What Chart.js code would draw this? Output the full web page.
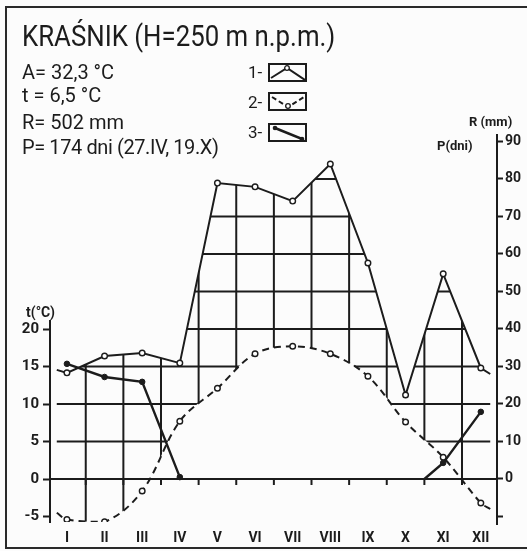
<!DOCTYPE html>
<html>
<head>
<meta charset="utf-8">
<script src="https://cdn.jsdelivr.net/npm/chart.js@4.4.1/dist/chart.umd.min.js"></script>
<style>
html, body { margin: 0; padding: 0; background: #fcfcfc; }
#wrap { position: relative; width: 527px; height: 551px; overflow: hidden; font-family: Roboto, sans-serif; color: #1c1c1c; }
#frame { position: absolute; left: 5px; top: 6px; width: 560px; height: 539px; border: 2px solid #2a2a2a; }
#chart { position: absolute; left: 0; top: 0; }
.t { position: absolute; white-space: nowrap; line-height: 1; }
.box { position: absolute; width: 35px; height: 15px; border: 2px solid #1c1c1c; }
.box svg { position: absolute; left: 0; top: 0; }
</style>
</head>
<body>
<div id="wrap">
  <div id="frame"></div>
  <canvas id="chart" width="527" height="551"></canvas>

  <div class="t" style="left:22px;top:21px;font-size:30px;transform:scaleX(0.86);transform-origin:left top;">KRAŚNIK (H=250 m n.p.m.)</div>
  <div class="t" style="left:22px;top:62px;font-size:20px;">A= 32,3 °C</div>
  <div class="t" style="left:22px;top:85px;font-size:20px;">t = 6,5 °C</div>
  <div class="t" style="left:22px;top:112px;font-size:20px;">R= 502 mm</div>
  <div class="t" style="left:22px;top:137px;font-size:20px;letter-spacing:-0.4px;">P= 174 dni (27.IV, 19.X)</div>

  <div class="t" style="left:248px;top:64px;font-size:17px;">1-</div>
  <div class="box" style="left:268px;top:63px;">
    <svg width="35" height="15"><polyline points="1,13 17,3 35,15" fill="none" stroke="#1c1c1c" stroke-width="2"/><circle cx="17" cy="3" r="2.3" fill="#fff" stroke="#1c1c1c" stroke-width="1.3"/></svg>
  </div>
  <div class="t" style="left:248px;top:94px;font-size:17px;">2-</div>
  <div class="box" style="left:268px;top:92px;">
    <svg width="35" height="15"><polyline points="2,3 18,13 34,3" fill="none" stroke="#1c1c1c" stroke-width="2" stroke-dasharray="5,3"/><circle cx="18" cy="12" r="2.3" fill="#fff" stroke="#1c1c1c" stroke-width="1.3"/></svg>
  </div>
  <div class="t" style="left:248px;top:124px;font-size:17px;">3-</div>
  <div class="box" style="left:268px;top:123px;">
    <svg width="35" height="15"><line x1="5" y1="3" x2="32" y2="14" stroke="#1c1c1c" stroke-width="2.5"/><circle cx="5" cy="3" r="2.3" fill="#1c1c1c"/><circle cx="32" cy="14" r="2.3" fill="#1c1c1c"/></svg>
  </div>

  <div class="t" style="left:26px;top:305px;font-size:14px;font-weight:bold;">t(°C)</div>
  <div class="t" style="left:469px;top:115px;font-size:13px;font-weight:bold;">R (mm)</div>
  <div class="t" style="left:437px;top:139px;font-size:13px;font-weight:bold;">P(dni)</div>
</div>

<script>
var ink = '#1c1c1c';

// miesiące
var months = ['I', 'II', 'III', 'IV', 'V', 'VI', 'VII', 'VIII', 'IX', 'X', 'XI', 'XII'];
var monthX = [1, 2, 3, 4, 5, 6, 7, 8, 9, 10, 11, 12];

// 1 - opady (mm)
var precip = [28.3, 32.8, 33.6, 30.9, 78.9, 77.9, 74.1, 84.0, 57.6, 22.4, 54.7, 29.6];
// 2 - temperatura (°C)
var temp = [-5.4, -5.7, -1.6, 7.7, 12.1, 16.7, 17.7, 16.7, 13.7, 7.6, 2.9, -3.2];
// krótkie przedłużenia krzywych przy brzegach wykresu
var edgeX = [0.73, 12.25];
var precipEdge = [29.1, 28.0];
var tempEdge = [-4.5, -4.0];
// 3 - liczba dni
var daysX = [1, 2, 3, 4, 7, 10.5, 11, 12];
var days = [30.7, 27.2, 25.9, 0.5, null, 0, 4.3, 17.9];

var tTicks = [-5, 0, 5, 10, 15, 20];
var rTicks = [-10, 0, 10, 20, 30, 40, 50, 60, 70, 80, 90];
var gridLevels = [10, 20, 30, 40, 50, 60, 70, 80];

function withEdges(vals, edge) {
    var out = [{ x: edgeX[0], y: edge[0] }];
    vals.forEach(function (v, i) { out.push({ x: monthX[i], y: v }); });
    out.push({ x: edgeX[1], y: edge[1] });
    return out;
}

function markRadius(ctx) {
    var p = ctx.raw;
    return p && Number.isInteger(p.x) ? 2.8 : 0;
}

function line(ctx, x1, y1, x2, y2) {
    ctx.beginPath();
    ctx.moveTo(x1, y1);
    ctx.lineTo(x2, y2);
    ctx.stroke();
}

// siatka między krzywą opadów a krzywą temperatury + osie
var hatch = {
    id: 'hatch',
    beforeDatasetsDraw: function (chart) {
        var ctx = chart.ctx, a = chart.chartArea;
        var x = chart.scales.x, yR = chart.scales.yR, yT = chart.scales.yT;
        var top = chart.getDatasetMeta(0).data;
        var bot = chart.getDatasetMeta(1).data;

        ctx.save();
        ctx.beginPath();
        top.forEach(function (p, i) { i ? ctx.lineTo(p.x, p.y) : ctx.moveTo(p.x, p.y); });
        ctx.lineTo(bot[bot.length - 1].x, bot[bot.length - 1].y);
        for (var i = bot.length - 1; i > 0; i--) {
            var c = bot[i], pr = bot[i - 1];
            ctx.bezierCurveTo(c.cp1x, c.cp1y, pr.cp2x, pr.cp2y, pr.x, pr.y);
        }
        ctx.closePath();
        ctx.clip();
        ctx.strokeStyle = ink;
        ctx.lineWidth = 2;
        gridLevels.forEach(function (v) {
            var py = yR.getPixelForValue(v);
            line(ctx, a.left, py, a.right, py);
        });
        for (var m = 1.5; m < 12; m++) {
            var px = x.getPixelForValue(m);
            line(ctx, px, a.top, px, a.bottom);
        }
        ctx.restore();

        ctx.save();
        ctx.strokeStyle = ink;
        ctx.lineWidth = 2;
        var y0 = yR.getPixelForValue(0);
        line(ctx, a.left, y0, a.right, y0);
        for (var k = 1.5; k < 12; k++) {
            var tx = x.getPixelForValue(k);
            line(ctx, tx, y0, tx, y0 + 6);
        }
        line(ctx, a.left, yT.getPixelForValue(21.2), a.left, a.bottom + 1);
        line(ctx, a.right, a.top, a.right, a.bottom + 3);
        ctx.restore();
    }
};

var tickFont = { family: 'Roboto', size: 14, weight: 'bold' };

new Chart(document.getElementById('chart'), {
    type: 'line',
    data: {
        datasets: [
            {
                label: '1',
                data: withEdges(precip, precipEdge),
                yAxisID: 'yR',
                borderColor: ink,
                borderWidth: 2,
                tension: 0,
                pointRadius: markRadius,
                pointBackgroundColor: '#fff',
                pointBorderColor: ink,
                pointBorderWidth: 1.4
            },
            {
                label: '2',
                data: withEdges(temp, tempEdge),
                yAxisID: 'yT',
                borderColor: ink,
                borderWidth: 2,
                borderDash: [7, 5],
                tension: 0.35,
                pointRadius: markRadius,
                pointBackgroundColor: '#fff',
                pointBorderColor: ink,
                pointBorderWidth: 1.4
            },
            {
                label: '3',
                data: daysX.map(function (v, i) { return { x: v, y: days[i] }; }),
                yAxisID: 'yR',
                borderColor: ink,
                borderWidth: 2.4,
                tension: 0,
                spanGaps: false,
                pointRadius: markRadius,
                pointBackgroundColor: ink,
                pointBorderColor: ink,
                pointBorderWidth: 1
            }
        ]
    },
    options: {
        responsive: false,
        animation: false,
        layout: { padding: { top: 134, left: 0, right: 0, bottom: 0 } },
        plugins: { legend: { display: false }, tooltip: { enabled: false } },
        scales: {
            x: {
                type: 'linear',
                min: 0.55,
                max: 12.43,
                afterBuildTicks: function (s) { s.ticks = monthX.map(function (v) { return { value: v }; }); },
                afterFit: function (s) { s.height = 29; },
                grid: { display: false, drawTicks: false },
                border: { display: false },
                ticks: {
                    autoSkip: false,
                    maxRotation: 0,
                    padding: 8,
                    color: ink,
                    font: tickFont,
                    callback: function (v) { return months[v - 1]; }
                }
            },
            yT: {
                type: 'linear',
                position: 'left',
                min: -5.733,
                max: 46,
                afterBuildTicks: function (s) { s.ticks = tTicks.map(function (v) { return { value: v }; }); },
                afterFit: function (s) { s.width = 50; },
                grid: { drawOnChartArea: false, tickLength: 7, tickWidth: 2, color: ink },
                border: { display: false },
                ticks: { padding: 4, color: ink, font: { family: 'Roboto', size: 15, weight: 'bold' } }
            },
            yR: {
                type: 'linear',
                position: 'right',
                min: -11.47,
                max: 92,
                afterBuildTicks: function (s) { s.ticks = rTicks.map(function (v) { return { value: v }; }); },
                afterFit: function (s) { s.width = 30; },
                grid: { drawOnChartArea: false, tickLength: 6, tickWidth: 2, color: ink },
                border: { display: false },
                ticks: {
                    padding: 2,
                    color: ink,
                    font: tickFont,
                    callback: function (v) { return v < 0 ? '' : v; }
                }
            }
        }
    },
    plugins: [hatch]
});
</script>
</body>
</html>
